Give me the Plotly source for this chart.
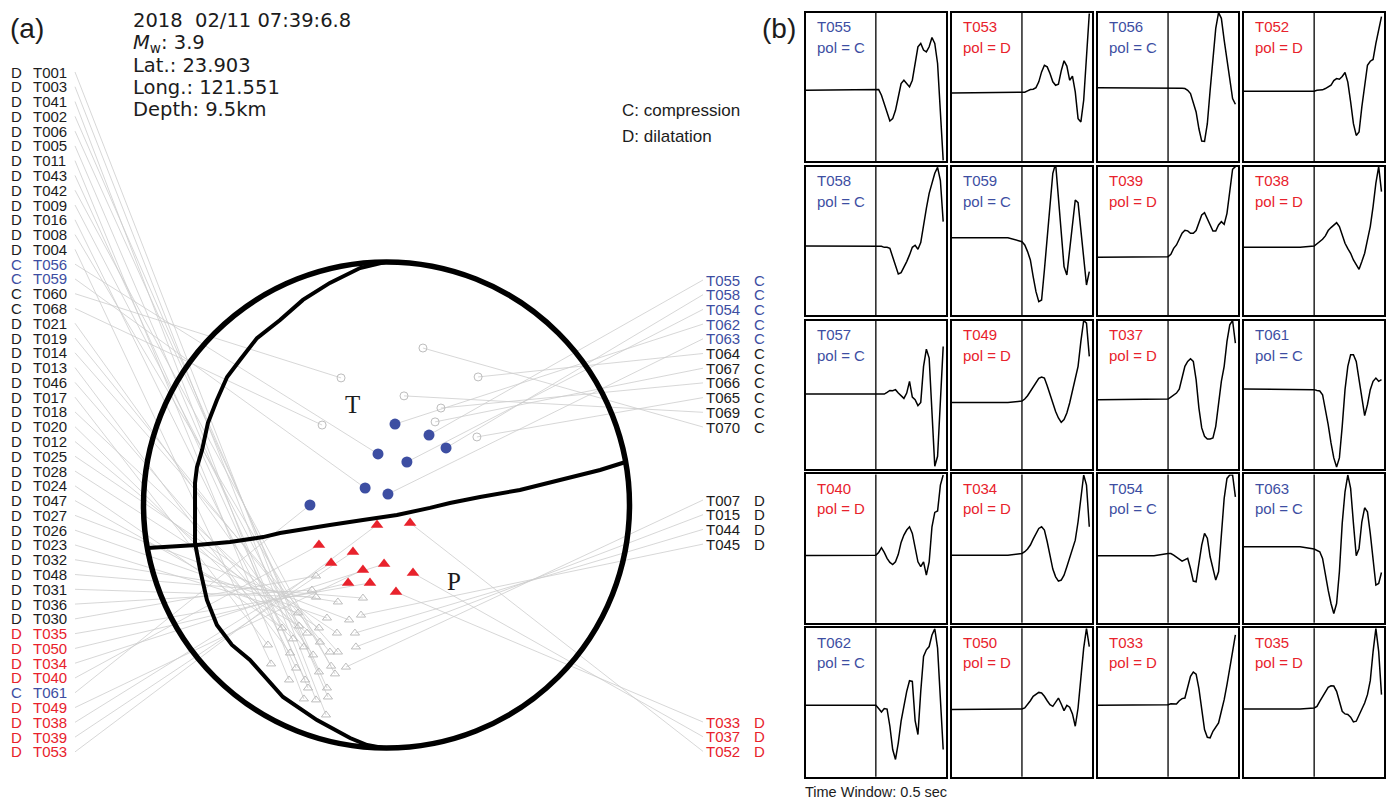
import plotly.graph_objects as go

W, H = 1389, 802

# ---------------- panel (a): event info ----------------
event_lines = ["2018  02/11 07:39:6.8", "<i>M</i><sub>w</sub>: 3.9", "Lat.: 23.903",
               "Long.: 121.551", "Depth: 9.5km"]
legend_lines = ["C: compression", "D: dilatation"]

# left column of stations (top to bottom), polarity, projected position on focal sphere (unit radius)
left_names = ["T001", "T003", "T041", "T002", "T006", "T005", "T011", "T043", "T042", "T009",
              "T016", "T008", "T004", "T056", "T059", "T060", "T068", "T021", "T019", "T014",
              "T013", "T046", "T017", "T018", "T020", "T012", "T025", "T028", "T024", "T047",
              "T027", "T026", "T023", "T032", "T048", "T031", "T036", "T030", "T035", "T050",
              "T034", "T040", "T061", "T049", "T038", "T039", "T053"]
left_pols = ["D", "D", "D", "D", "D", "D", "D", "D", "D", "D",
             "D", "D", "D", "C", "C", "C", "C", "D", "D", "D",
             "D", "D", "D", "D", "D", "D", "D", "D", "D", "D",
             "D", "D", "D", "D", "D", "D", "D", "D", "D", "D",
             "D", "D", "C", "D", "D", "D", "D"]
left_proj_x = [-0.249, -0.290, -0.340, -0.241, -0.245, -0.323, -0.401, -0.335, -0.212, -0.278,
               -0.372, -0.228, -0.475, -0.035, -0.088, -0.187, -0.265, -0.302, -0.233, -0.200,
               -0.397, -0.340, -0.488, -0.274, -0.385, -0.327, -0.204, -0.278, -0.430, -0.360,
               -0.154, -0.245, -0.364, -0.200, -0.097, -0.290, -0.307, -0.290, -0.068, -0.158,
               -0.010, -0.278, -0.315, -0.097, -0.228, -0.138, -0.039]
left_proj_y = [-0.864, -0.802, -0.798, -0.790, -0.753, -0.753, -0.720, -0.720, -0.695, -0.687,
               -0.671, -0.663, -0.654, 0.210, 0.070, 0.523, 0.329, -0.617, -0.605, -0.605,
               -0.609, -0.584, -0.576, -0.564, -0.551, -0.527, -0.527, -0.506, -0.506, -0.498,
               -0.473, -0.465, -0.444, -0.399, -0.383, -0.379, -0.350, -0.292, -0.321, -0.321,
               -0.243, -0.165, 0.000, -0.267, -0.239, -0.193, -0.082]

# right column of stations (three blocks, top to bottom)
right_names = ["T055", "T058", "T054", "T062", "T063", "T064", "T067", "T066", "T065", "T069", "T070",
               "T007", "T015", "T044", "T045",
               "T033", "T037", "T052"]
right_pols = ["C", "C", "C", "C", "C", "C", "C", "C", "C", "C", "C",
              "D", "D", "D", "D",
              "D", "D", "D"]
right_proj_x = [0.175, 0.245, 0.084, 0.035, 0.006, 0.377, 0.200, 0.224, 0.372, 0.072, 0.150,
                -0.167, -0.126, -0.130, -0.105,
                0.039, 0.109, 0.097]
right_proj_y = [0.288, 0.235, 0.177, 0.333, 0.045, 0.527, 0.342, 0.399, 0.280, 0.449, 0.646,
                -0.667, -0.584, -0.527, -0.453,
                -0.358, -0.280, -0.074]
right_block_sizes = [11, 4, 3]

# nodal planes (projected)
nodal1_x = [-0.006, -0.109, -0.233, -0.344, -0.438, -0.533, -0.603, -0.656, -0.698, -0.735,
            -0.759, -0.780, -0.788, -0.788, -0.767, -0.739, -0.698, -0.636, -0.562, -0.426,
            -0.286, -0.150, -0.080, -0.014]
nodal1_y = [1.000, 0.975, 0.914, 0.844, 0.761, 0.687, 0.597, 0.527, 0.432, 0.337,
            0.226, 0.156, 0.091, -0.156, -0.267, -0.391, -0.494, -0.576, -0.638, -0.790,
            -0.885, -0.959, -0.988, -1.000]
nodal2_x = [-0.984, -0.780, -0.644, -0.508, -0.438, -0.344, -0.233, -0.097, 0.043, 0.179,
            0.261, 0.385, 0.549, 0.714, 0.879, 0.984]
nodal2_y = [-0.177, -0.165, -0.152, -0.132, -0.115, -0.099, -0.082, -0.062, -0.041, -0.012,
            0.008, 0.033, 0.062, 0.103, 0.144, 0.177]
t_axis_pos = (-0.138, 0.412)
p_axis_pos = (0.278, -0.313)

# ---------------- panel (b): waveforms ----------------
wave_stations = ["T055", "T053", "T056", "T052",
                 "T058", "T059", "T039", "T038",
                 "T057", "T049", "T037", "T061",
                 "T040", "T034", "T054", "T063",
                 "T062", "T050", "T033", "T035"]
wave_pols = ["C", "D", "C", "D",
             "C", "C", "D", "D",
             "C", "D", "D", "C",
             "D", "D", "C", "C",
             "C", "D", "D", "D"]
t_window = 0.5
t_onset = 0.25
t_pre = [0.0, 0.2]
t_samples = [0.25, 0.26, 0.27, 0.28, 0.29, 0.30, 0.31, 0.32, 0.33, 0.34, 0.35, 0.36, 0.37,
             0.38, 0.39, 0.40, 0.41, 0.42, 0.43, 0.44, 0.45, 0.46, 0.47, 0.48, 0.49]
wave_base = [0.477, 0.459, 0.495, 0.471,
             0.465, 0.521, 0.389, 0.456,
             0.504, 0.448, 0.466, 0.538,
             0.454, 0.456, 0.452, 0.512,
             0.481, 0.452, 0.481, 0.456]
amp_T055 = [.477, .482, .444, .387, .320, .270, .286, .342, .432, .523, .545, .523, .500, .545, .646, .770, .793, .748, .736, .770, .833, .793, .658, .342, .005]
amp_T053 = [.459, .464, .473, .482, .484, .495, .534, .601, .646, .635, .590, .534, .511, .518, .608, .676, .640, .545, .572, .466, .286, .264, .410, .703, .995]
amp_T056 = [.495, .495, .493, .493, .491, .491, .489, .477, .455, .399, .331, .218, .135, .133, .252, .477, .703, .894, 1.00, .962, .815, .680, .534, .421, .383]
amp_T052 = [.471, .477, .480, .480, .489, .498, .511, .543, .556, .552, .570, .597, .532, .399, .252, .173, .196, .365, .523, .646, .673, .685, .793, .894, .973]
amp_T058 = [.465, .465, .463, .456, .456, .449, .389, .326, .276, .285, .321, .360, .405, .456, .470, .443, .488, .613, .719, .820, .892, .955, .995, .906, .629]
amp_T059 = [.494, .472, .427, .371, .258, .157, .090, .101, .303, .517, .751, .955, 1.02, .798, .528, .326, .270, .438, .629, .775, .757, .573, .348, .202, .292]
amp_T039 = [.393, .409, .449, .472, .517, .551, .571, .567, .551, .551, .569, .629, .674, .690, .652, .607, .566, .566, .607, .629, .611, .685, .831, .982, 1.00]
amp_T038 = [.465, .479, .492, .510, .533, .569, .589, .605, .622, .596, .533, .483, .447, .416, .371, .337, .308, .360, .416, .506, .596, .730, .888, 1.00, .831]
amp_T057 = [.504, .504, .507, .504, .516, .529, .527, .534, .511, .493, .475, .511, .590, .484, .466, .426, .448, .691, .807, .747, .377, .018, .085, .511, .825]
amp_T049 = [.457, .471, .493, .522, .556, .587, .610, .619, .612, .561, .500, .448, .387, .343, .314, .332, .377, .444, .522, .601, .691, .859, 1.00, .982, .758]
amp_T037 = [.471, .484, .500, .511, .538, .623, .691, .724, .742, .724, .601, .410, .276, .220, .202, .202, .209, .287, .433, .590, .691, .859, .971, 1.00, .848]
amp_T061 = [.534, .529, .525, .500, .410, .298, .175, .074, .013, .074, .287, .534, .691, .769, .769, .724, .601, .466, .359, .433, .534, .590, .612, .590, .601]
amp_T040 = [.456, .474, .506, .474, .434, .407, .393, .411, .461, .542, .591, .625, .647, .602, .512, .411, .378, .411, .321, .411, .647, .744, .753, .928, .996]
amp_T034 = [.467, .479, .497, .524, .564, .602, .636, .647, .625, .546, .452, .362, .310, .281, .288, .321, .378, .434, .490, .557, .681, .861, .996, .928, .647]
amp_T054 = [.467, .467, .456, .445, .429, .416, .427, .434, .366, .281, .276, .411, .524, .603, .570, .445, .355, .288, .344, .591, .838, .973, .996, .996, .849]
amp_T063 = [.497, .490, .479, .434, .321, .220, .130, .063, .130, .344, .670, .883, .996, .906, .670, .452, .501, .681, .775, .748, .602, .411, .254, .265, .339]
amp_T062 = [.481, .459, .436, .459, .456, .340, .183, .116, .228, .374, .481, .575, .647, .642, .378, .284, .575, .810, .855, .877, .955, .996, .866, .508, .183]
amp_T050 = [.456, .463, .485, .512, .542, .557, .568, .564, .542, .512, .485, .474, .503, .530, .490, .445, .481, .468, .423, .340, .463, .664, .866, 1.00, .877]
amp_T033 = [.485, .492, .490, .490, .512, .526, .530, .597, .676, .705, .691, .593, .441, .318, .266, .262, .306, .333, .362, .441, .519, .620, .720, .843, .955]
amp_T035 = [.463, .474, .508, .542, .575, .602, .613, .611, .575, .512, .441, .423, .419, .401, .369, .374, .414, .459, .497, .553, .647, .843, 1.00, .843, .553]
wave_amps = [amp_T055, amp_T053, amp_T056, amp_T052,
             amp_T058, amp_T059, amp_T039, amp_T038,
             amp_T057, amp_T049, amp_T037, amp_T061,
             amp_T040, amp_T034, amp_T054, amp_T063,
             amp_T062, amp_T050, amp_T033, amp_T035]

# ---------------- styles ----------------
BLUE = "#3d4ea2"
RED = "#e8222c"
INK = "#1c1c1c"
GRAY_LINE = "#cdcdcd"
GRAY_MARK = "#bdbdbd"
SANS = "Liberation Sans, Arial, Helvetica, sans-serif"
WIDE = "DejaVu Sans, Liberation Sans, sans-serif"
SERIF = "Liberation Serif, Times New Roman, serif"

highlight = set(wave_stations)


def station_color(name, pol):
    if name in highlight:
        return BLUE if pol == "C" else RED
    return INK


fig = go.Figure()

# ---------------- panel (a) geometry ----------------
SC = 243.0          # pixels per unit radius
CX, CY = 386.5, 505.0
A_W = 790.0
xr = [(0 - CX) / SC, (A_W - CX) / SC]
yr = [(CY - H) / SC, (CY - 0) / SC]

left_row_y = [(CY - (72 + 14.78 * i)) / SC for i in range(len(left_names))]
block_top_px = [280.0, 500.0, 722.0]
right_row_y = []
for top, n in zip(block_top_px, right_block_sizes):
    right_row_y += [(CY - (top + 14.7 * i)) / SC for i in range(n)]

x_left_end = (75 - CX) / SC
x_right_end = (703 - CX) / SC
x_left_pol = (10 - CX) / SC
x_left_name = (32 - CX) / SC
x_right_name = (705 - CX) / SC
x_right_pol = (753 - CX) / SC

# connecting lines
lx, ly = [], []
for yy, px, py in zip(left_row_y, left_proj_x, left_proj_y):
    lx += [x_left_end, px, None]
    ly += [yy, py, None]
for yy, px, py in zip(right_row_y, right_proj_x, right_proj_y):
    lx += [x_right_end, px, None]
    ly += [yy, py, None]
fig.add_trace(go.Scatter(x=lx, y=ly, mode="lines", line=dict(color=GRAY_LINE, width=0.8),
                         hoverinfo="skip", showlegend=False))

# nodal planes
for nx, ny in ((nodal1_x, nodal1_y), (nodal2_x, nodal2_y)):
    fig.add_trace(go.Scatter(x=nx, y=ny, mode="lines", line=dict(color="black", width=4),
                             hoverinfo="skip", showlegend=False))

# markers
all_names = left_names + right_names
all_pols = left_pols + right_pols
all_px = left_proj_x + right_proj_x
all_py = left_proj_y + right_proj_y
groups = {"gc": ([], []), "gd": ([], []), "bc": ([], []), "rd": ([], [])}
for nm, pl, px, py in zip(all_names, all_pols, all_px, all_py):
    key = ("b" if pl == "C" else "r") if nm in highlight else "g"
    key += pl.lower()
    groups[key][0].append(px)
    groups[key][1].append(py)
fig.add_trace(go.Scatter(x=groups["gc"][0], y=groups["gc"][1], mode="markers",
                         marker=dict(symbol="circle-open", size=8, color=GRAY_MARK, line=dict(width=1)),
                         showlegend=False))
fig.add_trace(go.Scatter(x=groups["gd"][0], y=groups["gd"][1], mode="markers",
                         marker=dict(symbol="triangle-up-open", size=8, color=GRAY_MARK, line=dict(width=1)),
                         showlegend=False))
fig.add_trace(go.Scatter(x=groups["bc"][0], y=groups["bc"][1], mode="markers",
                         marker=dict(symbol="circle", size=11, color=BLUE, line=dict(width=0)),
                         showlegend=False))
fig.add_trace(go.Scatter(x=groups["rd"][0], y=groups["rd"][1], mode="markers",
                         marker=dict(symbol="triangle-up", size=11, color=RED, line=dict(width=0)),
                         showlegend=False))

annotations = []
shapes = []


def ann(text, x, y, size, color=INK, xanchor="left", xref="x", yref="y", family=SANS):
    annotations.append(dict(text=text, x=x, y=y, xref=xref, yref=yref, xanchor=xanchor,
                            yanchor="middle", showarrow=False, borderpad=0,
                            font=dict(family=family, size=size, color=color)))


for nm, pl, yy in zip(left_names, left_pols, left_row_y):
    c = station_color(nm, pl)
    ann(pl, x_left_pol, yy, 15, c)
    ann(nm, x_left_name, yy, 15, c)
for nm, pl, yy in zip(right_names, right_pols, right_row_y):
    c = station_color(nm, pl)
    ann(nm, x_right_name, yy, 15, c)
    ann(pl, x_right_pol, yy, 15, c)

ann("T", t_axis_pos[0], t_axis_pos[1], 25, INK, "center", family=SERIF)
ann("P", p_axis_pos[0], p_axis_pos[1], 25, INK, "center", family=SERIF)

shapes.append(dict(type="circle", xref="x", yref="y", x0=-1, y0=-1, x1=1, y1=1,
                   line=dict(color="black", width=5.5)))

# info text
for i, t in enumerate(event_lines):
    ann(t, 132 / W, 1 - (21 + 22.2 * i) / H, 19.5, INK, "left", "paper", "paper", family=WIDE)
ann("(a)", 9 / W, 1 - 28 / H, 28, INK, "left", "paper", "paper")
ann("(b)", 761 / W, 1 - 28 / H, 28, INK, "left", "paper", "paper")
ann(legend_lines[0], 621 / W, 1 - 110 / H, 17, INK, "left", "paper", "paper")
ann(legend_lines[1], 621 / W, 1 - 137 / H, 17, INK, "left", "paper", "paper")
ann("Time Window: %.1f sec" % t_window, 804 / W, 1 - 792 / H, 14.5, INK, "left", "paper", "paper")

layout_axes = dict(
    xaxis=dict(domain=[0, A_W / W], range=xr, visible=False, fixedrange=True),
    yaxis=dict(domain=[0, 1], range=yr, visible=False, fixedrange=True),
)

# ---------------- panel (b) ----------------
col_left_px = [805.7, 951.8, 1097.9, 1244.0]
box_w = 140.3
row_top_px = [12.7, 166.6, 320.5, 474.4, 628.3]
box_h = 148.4

for n, (st, pl, base, amp) in enumerate(zip(wave_stations, wave_pols, wave_base, wave_amps)):
    k = n + 2
    r, c = divmod(n, 4)
    xl = col_left_px[c]
    yt = row_top_px[r]
    ax = dict(domain=[xl / W, (xl + box_w) / W], range=[0, t_window], anchor="y%d" % k,
              showline=True, mirror=True, linecolor="black", linewidth=1.6,
              showgrid=False, zeroline=False, showticklabels=False, ticks="", fixedrange=True)
    ay = dict(domain=[1 - (yt + box_h) / H, 1 - yt / H], range=[0, 1], anchor="x%d" % k,
              showline=True, mirror=True, linecolor="black", linewidth=1.6,
              showgrid=False, zeroline=False, showticklabels=False, ticks="", fixedrange=True)
    layout_axes["xaxis%d" % k] = ax
    layout_axes["yaxis%d" % k] = ay
    fig.add_trace(go.Scatter(x=t_pre + t_samples, y=[base, base] + amp, mode="lines",
                             line=dict(color="black", width=1.5), xaxis="x%d" % k, yaxis="y%d" % k,
                             hoverinfo="skip", showlegend=False))
    shapes.append(dict(type="line", xref="x%d" % k, yref="y%d domain" % k, x0=t_onset, x1=t_onset,
                       y0=0, y1=1, line=dict(color="black", width=1.3)))
    col = BLUE if pl == "C" else RED
    ann(st, 0.07, 0.905, 15, col, "left", "x%d domain" % k, "y%d domain" % k)
    ann("pol = %s" % pl, 0.07, 0.767, 15, col, "left", "x%d domain" % k, "y%d domain" % k)

fig.update_layout(width=W, height=H, margin=dict(l=0, r=0, t=0, b=0),
                  paper_bgcolor="white", plot_bgcolor="white",
                  annotations=annotations, shapes=shapes, **layout_axes)

fig.write_html("out.html", config={"displayModeBar": False},
               post_script="document.body.style.margin='0px';")
